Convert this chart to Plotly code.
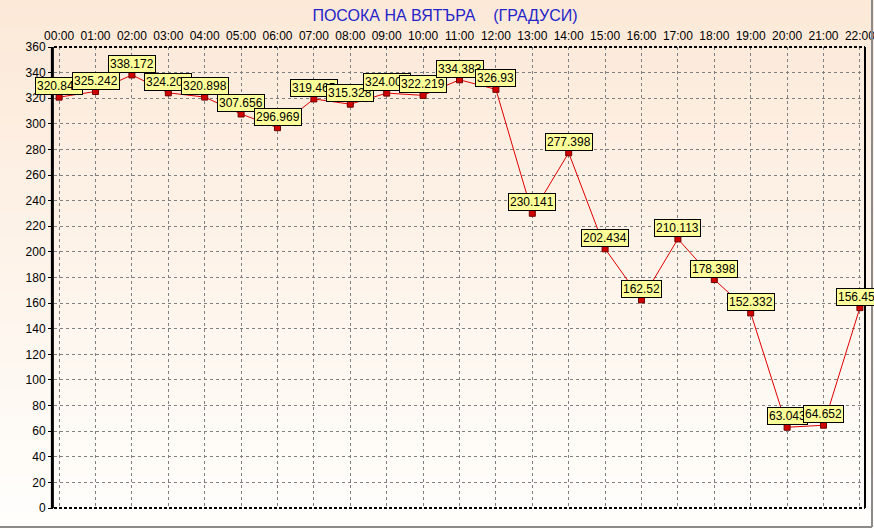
"""
Wind direction over the day (degrees), hourly readings with value labels.
"""

import plotly.graph_objects as go

hours = [
    "00:00", "01:00", "02:00", "03:00", "04:00", "05:00", "06:00", "07:00",
    "08:00", "09:00", "10:00", "11:00", "12:00", "13:00", "14:00", "15:00",
    "16:00", "17:00", "18:00", "19:00", "20:00", "21:00", "22:00",
]
direction = [
    320.841, 325.242, 338.172, 324.205, 320.898, 307.656, 296.969, 319.465,
    315.328, 324.002, 322.219, 334.383, 326.93, 230.141, 277.398, 202.434,
    162.52, 210.113, 178.398, 152.332, 63.043, 64.652, 156.457,
]
y_ticks = list(range(0, 361, 20))

W, H = 874, 529
L, R, T, B = 54, 9, 47, 21
PW, PH = W - L - R, H - T - B
FONT = "Liberation Sans, Arial"

fig = go.Figure()

fig.add_trace(
    go.Scatter(
        x=hours,
        y=direction,
        mode="lines+markers",
        line={"color": "#e00000", "width": 1},
        marker={
            "symbol": "square",
            "size": 6,
            "color": "#d00000",
            "line": {"color": "#700000", "width": 1},
        },
        hoverinfo="x+y",
        showlegend=False,
    )
)

# value labels, later ones drawn over earlier ones like the original
annotations = []
for h, v in zip(hours, direction):
    annotations.append(
        dict(
            x=h,
            y=v,
            text=f"{v:g}",
            showarrow=False,
            xanchor="center",
            yanchor="bottom",
            yshift=2,
            font={"family": FONT, "size": 12, "color": "black"},
            bgcolor="#ffff99",
            bordercolor="black",
            borderwidth=1,
            borderpad=1,
        )
    )

# background gradient: peach at top, near white at bottom
shapes = []
n_bands = 60
top_c = (252, 233, 216)
bot_c = (255, 254, 252)
y_lo = -B / PH
y_hi = 1 + T / PH
for i in range(n_bands):
    f = i / (n_bands - 1)
    c = tuple(round(top_c[k] + (bot_c[k] - top_c[k]) * f) for k in range(3))
    y1 = y_hi - (y_hi - y_lo) * i / n_bands
    y0 = y_hi - (y_hi - y_lo) * (i + 1) / n_bands
    shapes.append(
        dict(
            type="rect", xref="paper", yref="paper",
            x0=-L / PW, x1=1 + R / PW, y0=y0 - 0.002, y1=y1,
            fillcolor="rgb(%d,%d,%d)" % c, line={"width": 0}, layer="below",
        )
    )

# plot frame
edge_y = -(527 - (T + PH)) / PH
edge_x = (872 - L) / PW
shapes += [
    dict(type="line", xref="paper", yref="paper", x0=-0.002, x1=-0.002, y0=0, y1=1,
         line={"color": "black", "width": 3}),
    dict(type="line", xref="paper", yref="paper", x0=1, x1=1, y0=0, y1=1,
         line={"color": "black", "width": 2}),
    dict(type="line", xref="paper", yref="paper", x0=0, x1=1, y0=1, y1=1,
         line={"color": "black", "width": 2, "dash": "3px,2px"}),
    dict(type="line", xref="paper", yref="paper", x0=0, x1=1, y0=0, y1=0,
         line={"color": "black", "width": 2, "dash": "3px,2px"}),
    # window edge
    dict(type="line", xref="paper", yref="paper", x0=-L / PW, x1=edge_x,
         y0=edge_y, y1=edge_y, line={"color": "#8a8a8a", "width": 2}),
    dict(type="line", xref="paper", yref="paper", x0=edge_x, x1=edge_x,
         y0=edge_y, y1=1 + T / PH, line={"color": "#8a8a8a", "width": 2}),
]

fig.update_layout(
    width=W,
    height=H,
    margin={"l": L, "r": R, "t": T, "b": B, "autoexpand": False},
    paper_bgcolor="white",
    plot_bgcolor="rgba(0,0,0,0)",
    font={"family": FONT, "size": 12, "color": "black"},
    title={
        "text": "ПОСОКА НА ВЯТЪРА    (ГРАДУСИ)",
        "x": 445 / W,
        "xanchor": "center",
        "y": 1 - 15 / H,
        "yanchor": "middle",
        "font": {"family": FONT, "size": 16, "color": "#2424c8"},
    },
    annotations=annotations,
    shapes=shapes,
)

fig.update_xaxes(
    type="category",
    categoryorder="array",
    categoryarray=hours,
    side="top",
    range=[-0.14, 22.14],
    showgrid=True,
    gridcolor="#808080",
    griddash="3px,3px",
    gridwidth=1,
    ticks="",
    ticklabelstandoff=4,
    showline=False,
    zeroline=False,
    tickfont={"size": 12},
)
fig.update_yaxes(
    range=[0, 360],
    tickvals=y_ticks,
    showgrid=True,
    gridcolor="#808080",
    griddash="3px,3px",
    gridwidth=1,
    ticks="outside",
    ticklen=5,
    tickcolor="black",
    showline=False,
    zeroline=False,
    tickfont={"size": 12},
)

# drop the default page margin so the figure fills the window
fig.write_html(
    "out.html",
    config={"displayModeBar": False},
    post_script="document.body.style.margin='0px';document.body.style.overflow='hidden';",
)
